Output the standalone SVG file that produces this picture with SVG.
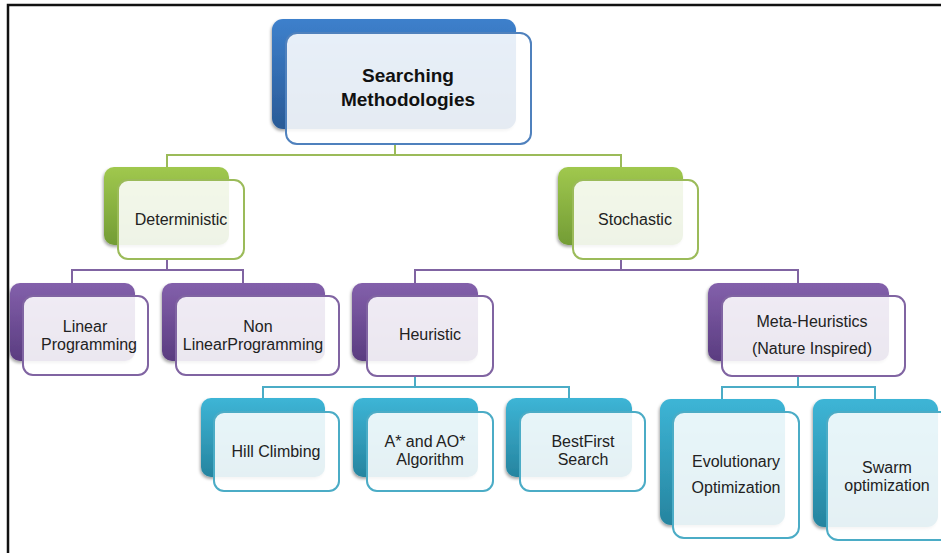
<svg xmlns="http://www.w3.org/2000/svg" width="941" height="553" viewBox="0 0 941 553">
<defs>
<linearGradient id="gBlue" x1="0" y1="0" x2="0" y2="1"><stop offset="0" stop-color="#3d80cc"/><stop offset="1" stop-color="#2a5a96"/></linearGradient>
<linearGradient id="gGreen" x1="0" y1="0" x2="0" y2="1"><stop offset="0" stop-color="#a0c84e"/><stop offset="1" stop-color="#739c35"/></linearGradient>
<linearGradient id="gPurple" x1="0" y1="0" x2="0" y2="1"><stop offset="0" stop-color="#8360ab"/><stop offset="1" stop-color="#5a3c80"/></linearGradient>
<linearGradient id="gTeal" x1="0" y1="0" x2="0" y2="1"><stop offset="0" stop-color="#3db5d6"/><stop offset="1" stop-color="#26849f"/></linearGradient>
<filter id="sh" x="-10%" y="-10%" width="120%" height="130%"><feDropShadow dx="-1" dy="2" stdDeviation="1.5" flood-color="#000" flood-opacity="0.35"/></filter>
</defs>
<style>
.t{font-family:"Liberation Sans",Arial,sans-serif;font-size:16px;fill:#222;text-anchor:middle}
.tb{font-family:"Liberation Sans",Arial,sans-serif;font-size:19px;font-weight:bold;fill:#111;text-anchor:middle}
.fr{fill:#fff;fill-opacity:0.88;stroke-width:2}
.c{fill:none;stroke-width:2}
.cg{stroke:#9bbb59}.cp{stroke:#8064a2}.ct{stroke:#4bacc6}
</style>
<rect width="941" height="553" fill="#fff"/>
<path d="M8 553 V5 H941" fill="none" stroke="#111" stroke-width="2.5"/>
<g id="connectors">
<path class="c cg" d="M395 144 V155 M167 167 V155 H621 V167"/>
<path class="c cp" d="M167 259 V270 M72 283 V270 H243 V283 M621 259 V270 M415 283 V270 H798 V283"/>
<path class="c ct" d="M415 376 V387 M263 398 V387 H569 V398 M798 376 V387 M722 399 V387 H875 V399"/>
</g>
<g id="root">
<rect x="272" y="19" width="244" height="110" rx="11" fill="url(#gBlue)" filter="url(#sh)"/>
<rect class="fr" x="286" y="33" width="245" height="111" rx="11" stroke="#4f81bd"/>
<text class="tb" x="408" y="82">Searching</text>
<text class="tb" x="408" y="106">Methodologies</text>
</g>
<g id="deterministic">
<rect x="104" y="167" width="125" height="78" rx="10" fill="url(#gGreen)" filter="url(#sh)"/>
<rect class="fr" x="118" y="180" width="126" height="79" rx="10" stroke="#9bbb59"/>
<text class="t" x="181" y="225">Deterministic</text>
</g>
<g id="stochastic">
<rect x="558" y="167" width="125" height="78" rx="10" fill="url(#gGreen)" filter="url(#sh)"/>
<rect class="fr" x="573" y="180" width="125" height="79" rx="10" stroke="#9bbb59"/>
<text class="t" x="635" y="225">Stochastic</text>
</g>
<g id="linear">
<rect x="10" y="283" width="125" height="78" rx="10" fill="url(#gPurple)" filter="url(#sh)"/>
<rect class="fr" x="23" y="296" width="125" height="79" rx="10" stroke="#8064a2"/>
<text class="t" x="85" y="332">Linear</text>
<text class="t" x="89" y="350">Programming</text>
</g>
<g id="nonlinear">
<rect x="162" y="283" width="163" height="78" rx="10" fill="url(#gPurple)" filter="url(#sh)"/>
<rect class="fr" x="176" y="296" width="163" height="79" rx="10" stroke="#8064a2"/>
<text class="t" x="258" y="332">Non</text>
<text class="t" x="253" y="350">LinearProgramming</text>
</g>
<g id="heuristic">
<rect x="352" y="283" width="126" height="78" rx="10" fill="url(#gPurple)" filter="url(#sh)"/>
<rect class="fr" x="367" y="296" width="126" height="80" rx="10" stroke="#8064a2"/>
<text class="t" x="430" y="340">Heuristic</text>
</g>
<g id="metaheuristics">
<rect x="708" y="283" width="181" height="78" rx="10" fill="url(#gPurple)" filter="url(#sh)"/>
<rect class="fr" x="722" y="296" width="183" height="80" rx="10" stroke="#8064a2"/>
<text class="t" x="812" y="327">Meta-Heuristics</text>
<text class="t" x="812" y="354">(Nature Inspired)</text>
</g>
<g id="hillclimbing">
<rect x="201" y="398" width="124" height="79" rx="10" fill="url(#gTeal)" filter="url(#sh)"/>
<rect class="fr" x="214" y="412" width="125" height="79" rx="10" stroke="#4bacc6"/>
<text class="t" x="276" y="457">Hill Climbing</text>
</g>
<g id="astar">
<rect x="353" y="398" width="125" height="79" rx="10" fill="url(#gTeal)" filter="url(#sh)"/>
<rect class="fr" x="367" y="412" width="126" height="79" rx="10" stroke="#4bacc6"/>
<text class="t" x="425" y="447">A* and AO*</text>
<text class="t" x="430" y="465">Algorithm</text>
</g>
<g id="bestfirst">
<rect x="506" y="398" width="126" height="79" rx="10" fill="url(#gTeal)" filter="url(#sh)"/>
<rect class="fr" x="520" y="412" width="125" height="79" rx="10" stroke="#4bacc6"/>
<text class="t" x="583" y="447">BestFirst</text>
<text class="t" x="583" y="465">Search</text>
</g>
<g id="evolutionary">
<rect x="660" y="399" width="125" height="126" rx="11" fill="url(#gTeal)" filter="url(#sh)"/>
<rect class="fr" x="673" y="412" width="126" height="126" rx="11" stroke="#4bacc6"/>
<text class="t" x="736" y="467">Evolutionary</text>
<text class="t" x="736" y="493">Optimization</text>
</g>
<g id="swarm">
<rect x="813" y="399" width="125" height="128" rx="11" fill="url(#gTeal)" filter="url(#sh)"/>
<rect class="fr" x="827" y="412" width="126" height="128" rx="11" stroke="#4bacc6"/>
<text class="t" x="887" y="473">Swarm</text>
<text class="t" x="887" y="491">optimization</text>
</g>
</svg>
